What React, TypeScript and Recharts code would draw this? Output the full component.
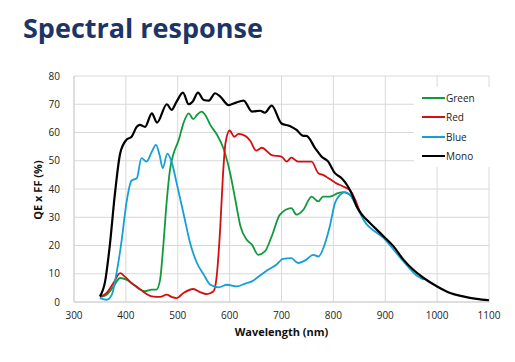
import React from "react";
import { LineChart, Line, XAxis, YAxis, CartesianGrid } from "recharts";

// [wavelength nm, QE x FF %]
const mono = [
  [350, 2], [360, 7.3], [369, 20], [379, 38.5], [389, 52.6], [401, 57.4], [411, 58.5],
  [421, 62], [427, 62.7], [437, 62], [450, 66.8], [460, 63.5], [479, 70], [488, 68],
  [498, 71], [510, 74.1], [521, 70], [529, 71], [539, 74.1], [550, 71.5], [560, 71.3],
  [572, 73.9], [582, 72.7], [598, 69.7], [611, 70.5], [627, 71.3], [643, 67.4],
  [659, 67.7], [668, 67], [681, 69.5], [700, 63.2], [716, 62.3], [729, 60.9],
  [742, 58.8], [748, 58.8], [765, 54.4], [777, 51.5], [790, 49.7], [803, 45.6],
  [816, 43.8], [826, 41.5], [835, 38.5], [845, 33.8], [855, 30.9], [871, 27.9],
  [897, 23.2], [916, 19.7], [935, 15], [954, 11.4], [974, 8.5], [1000, 5.5],
  [1025, 3.2], [1050, 2], [1076, 1.1], [1100, 0.6],
];

const red = [
  [350, 1.8], [363, 3.2], [376, 6.7], [389, 10.2], [398, 9], [411, 6.7], [424, 5],
  [437, 3.2], [450, 2], [466, 1.8], [479, 2.6], [488, 1.8], [498, 1.4], [511, 3.2],
  [530, 4.6], [543, 3.5], [556, 2.8], [569, 3.8], [575, 9], [582, 26.7], [587, 44.4],
  [592, 56.2], [600, 60.7], [609, 58.5], [617, 59.5], [630, 58.8], [640, 57],
  [651, 53.6], [662, 54.6], [681, 52], [700, 51.5], [710, 49.7], [719, 51.1],
  [732, 49.7], [758, 49.7], [771, 45.6], [780, 45], [793, 43.5], [806, 42],
  [819, 40.9], [832, 39.5], [842, 36.2], [851, 31.8],
];

const green = [
  [350, 1.8], [363, 2.6], [376, 5.5], [389, 8.5], [401, 7.9], [415, 6.1], [427, 4.4],
  [437, 3.8], [450, 4.4], [459, 4.4], [466, 7.9], [472, 19.7], [479, 36.2],
  [485, 46.8], [492, 52.6], [502, 57.4], [511, 63.3], [521, 66.8], [530, 64.7],
  [537, 66.2], [546, 67.4], [553, 66.2], [563, 62.6], [576, 59.1], [588, 54.4],
  [601, 45.6], [611, 36.2], [621, 26.7], [633, 22], [643, 20.3], [655, 16.7],
  [668, 17.9], [681, 23.2], [697, 30.9], [719, 33.2], [729, 30.9], [742, 32.6],
  [758, 37.3], [771, 35.6], [780, 37.3], [793, 37.3], [809, 38.5], [819, 38.9],
  [832, 37.9], [845, 33.8],
];

const blue = [
  [350, 1.4], [363, 0.8], [373, 2.6], [382, 10.2], [392, 22], [401, 35], [411, 43],
  [421, 43.8], [430, 50.9], [440, 49.7], [450, 53.2], [458, 55.6], [465, 52],
  [471, 47.4], [480, 52.5], [488, 49.7], [498, 42], [511, 31.4], [524, 20.8],
  [537, 13.8], [550, 9.7], [563, 6.1], [579, 5.2], [595, 6.1], [614, 5.5], [630, 6.5],
  [643, 7.3], [658, 9.3], [674, 11.4], [690, 13.2], [703, 15.3], [719, 15.5],
  [732, 13.8], [748, 15], [761, 16.7], [771, 16.1], [784, 20.8], [793, 26.7],
  [803, 35], [813, 37.9], [822, 38.9], [832, 37.9], [845, 33.8], [858, 29.1],
  [897, 22.6], [935, 14.4], [961, 9.3], [974, 7.9],
];

const xTicks = [300, 400, 500, 600, 700, 800, 900, 1000, 1100];
const yTicks = [0, 10, 20, 30, 40, 50, 60, 70, 80];

const series = [
  { name: "Green", data: green, color: "#109a3c" },
  { name: "Red", data: red, color: "#d40f0f" },
  { name: "Blue", data: blue, color: "#159fd6" },
  { name: "Mono", data: mono, color: "#000000" },
];

const toRows = (pts: number[][]) => pts.map(([nm, qe]) => ({ nm, qe }));

const font = "'Open Sans', 'DejaVu Sans', sans-serif";

const LegendBox = () => (
  <div style={{ position: "absolute", left: 414, top: 87, width: 80, background: "#fff", padding: "1px 0 1px 8px", boxSizing: "border-box" }}>
    {series.map((s) => (
      <div key={s.name} style={{ display: "flex", alignItems: "center", height: 19.5 }}>
        <span style={{ width: 23, height: 2, background: s.color, display: "inline-block" }} />
        <span style={{ fontSize: 10, color: "#222", marginLeft: 1 }}>{s.name}</span>
      </div>
    ))}
  </div>
);

export default function App() {
  return (
    <div style={{ position: "absolute", left: 0, top: 0, width: 515, height: 362, background: "#fff", fontFamily: font }}>
      <div style={{ position: "absolute", left: 23, top: 9, fontSize: 27, fontWeight: 700, color: "#1d3566" }}>
        Spectral response
      </div>
      <LineChart width={515} height={362} margin={{ top: 76, right: 26, left: 0, bottom: 0 }}>
        <CartesianGrid stroke="#d9d9d9" strokeWidth={1} />
        <XAxis
          type="number"
          dataKey="nm"
          domain={[300, 1100]}
          ticks={xTicks}
          height={60}
          tickLine={false}
          axisLine={{ stroke: "#d0d0d0" }}
          tick={{ fontSize: 10, fill: "#222", fontFamily: font }}
          tickMargin={4}
          allowDuplicatedCategory={false}
        />
        <YAxis
          type="number"
          domain={[0, 80]}
          ticks={yTicks}
          width={74}
          tickLine={false}
          axisLine={{ stroke: "#d0d0d0" }}
          tick={{ fontSize: 10, fill: "#222", fontFamily: font }}
          tickMargin={8}
        />
        {series.map((s) => (
          <Line
            key={s.name}
            name={s.name}
            data={toRows(s.data)}
            dataKey="qe"
            type="monotone"
            stroke={s.color}
            strokeWidth={s.name === "Mono" ? 2.2 : 1.8}
            dot={false}
            isAnimationActive={false}
          />
        ))}
      </LineChart>
      <LegendBox />
      <div style={{ position: "absolute", left: 0, top: 324, width: 563, textAlign: "center", fontSize: 11, fontWeight: 700, color: "#111" }}>
        Wavelength (nm)
      </div>
      <div
        style={{
          position: "absolute", left: 37, top: 190, fontSize: 11, fontWeight: 700, color: "#111",
          transform: "translate(-50%, -50%) rotate(-90deg)", whiteSpace: "nowrap",
        }}
      >
        QE x FF (%)
      </div>
    </div>
  );
}
